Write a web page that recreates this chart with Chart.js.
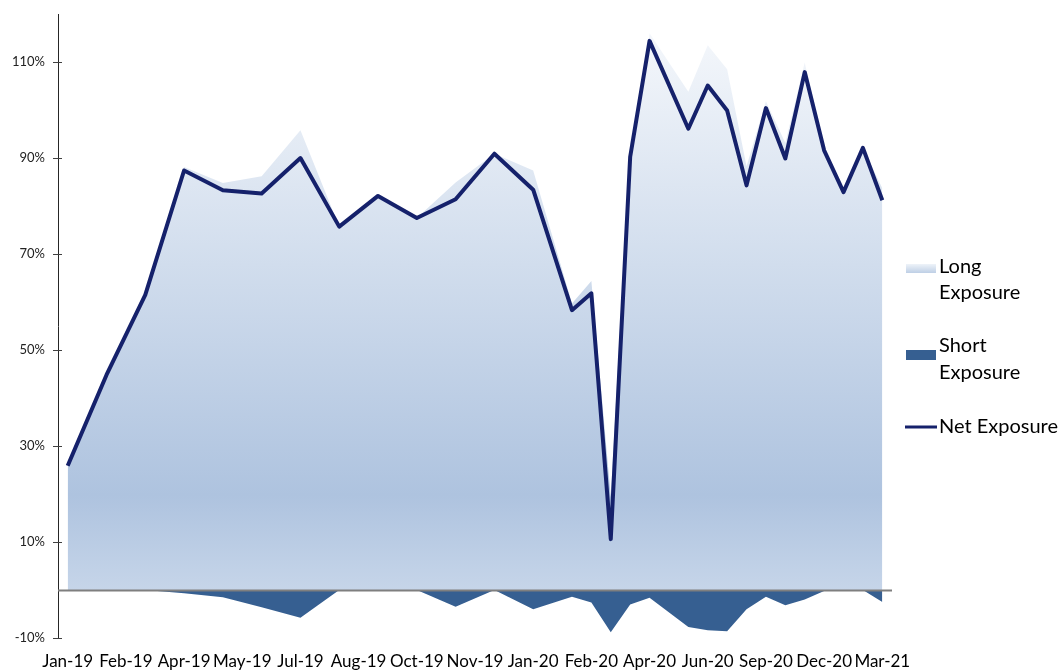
<!DOCTYPE html>
<html>
<head>
<meta charset="utf-8">
<script src="https://cdn.jsdelivr.net/npm/chart.js@4.4.1/dist/chart.umd.min.js"></script>
<style>
  html, body { margin: 0; padding: 0; background: #fff; }
  #wrap { width: 1060px; height: 670px; }
</style>
</head>
<body>
<div id="wrap"><canvas id="exposureChart"></canvas></div>
<script>
// Category axis: half-month slots early on, monthly later (only every 3rd label is shown)
const categories = [
    'Jan-19', 'Jan-19', 'Feb-19', 'Feb-19', 'Mar-19', 'Mar-19', 'Apr-19', 'Apr-19',
    'May-19', 'May-19', 'Jun-19', 'Jun-19', 'Jul-19', 'Jul-19', 'Aug-19', 'Aug-19',
    'Sep-19', 'Sep-19', 'Oct-19', 'Oct-19', 'Nov-19', 'Nov-19', 'Dec-19', 'Dec-19',
    'Jan-20', 'Jan-20', 'Feb-20', 'Feb-20', 'Mar-20', 'Mar-20', 'Apr-20', 'May-20',
    'May-20', 'Jun-20', 'Jul-20', 'Aug-20', 'Sep-20', 'Oct-20', 'Nov-20', 'Dec-20',
    'Jan-21', 'Feb-21', 'Mar-21'
];

// Exposure in % (null = no observation in that slot)
const longExposure = [
    25.9, null, 44.8, null, 61.5, null, 88.1, null,
    84.8, null, 86.2, null, 95.8, null, 75.7, null,
    82.1, null, 77.5, null, 84.9, null, 90.9, null,
    87.4, null, 59.7, 64.4, 19.4, 93.2, 116.0, null,
    103.8, 113.5, 108.5, 88.3, 101.8, 93.1, 109.9, 91.8,
    82.9, 92.1, 83.7
];

const shortExposure = [
    0, null, 0, null, 0, null, -0.7, null,
    -1.5, null, -3.6, null, -5.8, null, 0, null,
    0, null, 0, null, -3.5, null, 0, null,
    -4.0, null, -1.4, -2.6, -8.8, -3.0, -1.6, null,
    -7.7, -8.4, -8.6, -4.0, -1.4, -3.2, -2.0, -0.2,
    0, 0, -2.5
];

const netExposure = [
    25.9, null, 44.8, null, 61.5, null, 87.4, null,
    83.3, null, 82.6, null, 90.0, null, 75.7, null,
    82.1, null, 77.5, null, 81.4, null, 90.9, null,
    83.4, null, 58.3, 61.8, 10.6, 90.2, 114.4, null,
    96.1, 105.1, 99.9, 84.3, 100.4, 89.9, 107.9, 91.6,
    82.9, 92.1, 81.2
];

const yTickValues = [-10, 10, 30, 50, 70, 90, 110];

const navy = '#15216b';
const shortBlue = '#365f91';
const fontFamily = 'Lato, "Open Sans", sans-serif';

// vertical gradient for the long exposure area, anchored to axis values
function longGradient(context) {
    const chart = context.chart;
    const area = chart.chartArea;
    if (!area) return '#c5d4e8';
    const y = chart.scales.y;
    const top = y.getPixelForValue(116);
    const bottom = y.getPixelForValue(0);
    const g = chart.ctx.createLinearGradient(0, top, 0, bottom);
    g.addColorStop(0, '#f4f7fb');
    g.addColorStop(0.83, '#aec3df');
    g.addColorStop(1, '#c6d5e9');
    return g;
}

// zero line, crossing y ticks and the side legend
const decorations = {
    id: 'decorations',
    afterDatasetsDraw(chart) {
        const ctx = chart.ctx;
        const area = chart.chartArea;
        const y = chart.scales.y;
        ctx.save();
        ctx.strokeStyle = '#7f7f7f';
        ctx.lineWidth = 2;
        const zy = Math.round(y.getPixelForValue(0)) + 0.5;
        ctx.beginPath();
        ctx.moveTo(area.left, zy);
        ctx.lineTo(area.right, zy);
        ctx.stroke();
        ctx.restore();
    },
    afterDraw(chart) {
        const ctx = chart.ctx;
        const area = chart.chartArea;
        const y = chart.scales.y;
        ctx.save();
        ctx.strokeStyle = '#404040';
        ctx.lineWidth = 1;
        yTickValues.forEach(v => {
            const py = Math.round(y.getPixelForValue(v)) + 0.5;
            ctx.beginPath();
            ctx.moveTo(area.left - 5, py);
            ctx.lineTo(area.left + 4, py);
            ctx.stroke();
        });

        // legend
        const sx = 906, tx = 939;
        ctx.font = '20px ' + fontFamily;
        ctx.fillStyle = '#000';
        ctx.textBaseline = 'middle';
        ctx.textAlign = 'left';

        const lg = ctx.createLinearGradient(0, 264, 0, 274);
        lg.addColorStop(0, '#eef3f9');
        lg.addColorStop(1, '#b9cbe3');
        ctx.fillStyle = lg;
        ctx.fillRect(sx, 264, 30, 9);
        ctx.fillStyle = '#000';
        ctx.fillText('Long', tx, 267);
        ctx.fillText('Exposure', tx, 293);

        ctx.fillStyle = shortBlue;
        ctx.fillRect(sx, 350, 30, 10);
        ctx.fillStyle = '#000';
        ctx.fillText('Short', tx, 346);
        ctx.fillText('Exposure', tx, 373);

        ctx.strokeStyle = navy;
        ctx.lineWidth = 3;
        ctx.beginPath();
        ctx.moveTo(905, 427);
        ctx.lineTo(937, 427);
        ctx.stroke();
        ctx.fillText('Net Exposure', tx, 427);
        ctx.restore();
    }
};

const chartData = {
    labels: categories,
    datasets: [
        {
            label: 'Net Exposure',
            data: netExposure,
            borderColor: navy,
            borderWidth: 4,
            borderJoinStyle: 'round',
            pointRadius: 0,
            fill: false,
            spanGaps: true,
            order: 0,
        },
        {
            label: 'Short Exposure',
            data: shortExposure,
            borderWidth: 0,
            pointRadius: 0,
            backgroundColor: shortBlue,
            fill: 'origin',
            spanGaps: true,
            order: 1,
        },
        {
            label: 'Long Exposure',
            data: longExposure,
            borderWidth: 0,
            pointRadius: 0,
            backgroundColor: longGradient,
            fill: 'origin',
            spanGaps: true,
            order: 2,
        },
    ],
};

const chartOptions = {
    responsive: true,
    maintainAspectRatio: false,
    animation: false,
    layout: {
        padding: { top: 14, right: 168, left: 0, bottom: 0 },
    },
    elements: {
        line: { tension: 0 },
    },
    scales: {
        x: {
            offset: true,
            grid: { display: false, drawTicks: false },
            border: { display: false },
            ticks: {
                autoSkip: false,
                maxRotation: 0,
                minRotation: 0,
                padding: 13,
                color: '#000',
                font: { family: fontFamily, size: 17 },
                callback: function (value, index) {
                    return index % 3 === 0 ? this.getLabelForValue(value) : '';
                },
            },
            afterFit: scale => { scale.height = 32; },
        },
        y: {
            min: -10,
            max: 120,
            grid: { display: false, drawTicks: false },
            border: { display: true, color: '#262626', width: 1 },
            ticks: {
                padding: 13,
                color: '#222',
                font: { family: fontFamily, size: 13 },
                callback: value => value + '%',
            },
            afterBuildTicks: scale => {
                scale.ticks = yTickValues.map(v => ({ value: v }));
            },
            afterFit: scale => {
                scale.width = 58;
                scale.paddingTop = 0;
                scale.paddingBottom = 0;
            },
        },
    },
    plugins: {
        legend: { display: false },
        tooltip: { enabled: false },
    },
};

const ctx = document.getElementById('exposureChart').getContext('2d');
const exposureChart = new Chart(ctx, {
    type: 'line',
    data: chartData,
    options: chartOptions,
    plugins: [decorations],
});
</script>
</body>
</html>
